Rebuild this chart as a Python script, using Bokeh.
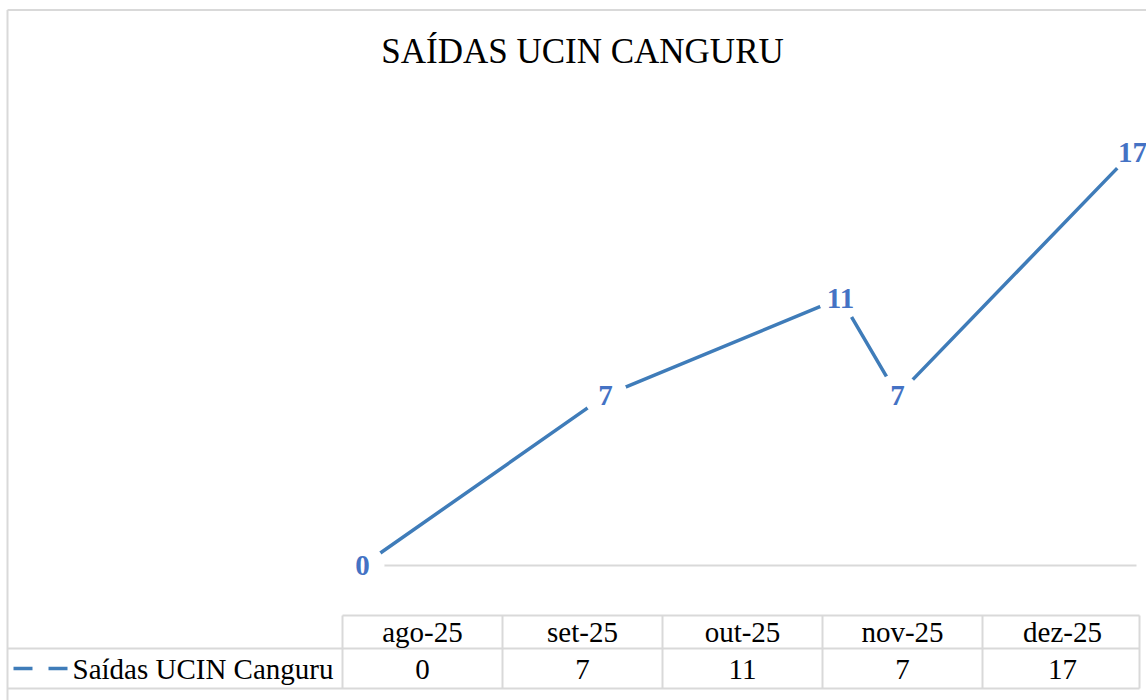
from bokeh.plotting import figure
from bokeh.models import Range1d
from bokeh.core.properties import value
from bokeh.embed import file_html
from bokeh.resources import INLINE

# ---- data ----
months = ["ago-25", "set-25", "out-25", "nov-25", "dez-25"]
saidas = [0, 7, 11, 7, 17]
# horizontal position of each plotted point, in table-column units
x_pos = [-0.375, 1.144, 2.6125, 2.969, 4.4375]
series_name = "Saídas UCIN Canguru"
title_text = "SAÍDAS UCIN CANGURU"

# ---- styles ----
FONT = value("Liberation Serif")
LINE = "#3F7CB9"
LABEL = "#4472C4"
GRID = "#D9D9D9"

# ---- layout helpers (image pixel -> data space) ----
W, H = 1146, 700
OX, OY = 0, 0
COL0, COLW = 422, 160
Y0, PXU = 565, 24.3


def px2x(X):
    return (X - COL0) / COLW


def px2y(Y):
    return (Y0 - Y) / PXU


p = figure(width=W, height=H, output_backend="svg", toolbar_location=None,
           x_range=Range1d(px2x(OX), px2x(OX + W)),
           y_range=Range1d(px2y(OY + H), px2y(OY)),
           x_axis_type=None, y_axis_type=None, min_border=0)
p.grid.visible = False
p.outline_line_color = None
p.background_fill_color = "white"
p.border_fill_color = "white"

# outer chart border (top and left)
p.segment(x0=[px2x(7), px2x(7)], y0=[px2y(9.5), px2y(9.5)],
          x1=[px2x(1146), px2x(7)], y1=[px2y(9.5), px2y(700)],
          line_color=GRID, line_width=2)

# zero gridline
p.segment(x0=[px2x(342)], y0=[0], x1=[px2x(1136)], y1=[0], line_color=GRID, line_width=2)

# series line
p.line(x_pos, saidas, line_color=LINE, line_width=3.5)
# white halo around points (breaks line around labels)
p.scatter(x_pos, saidas, size=44, fill_color="white", line_color=None)
# data labels
p.text(x=x_pos, y=saidas, text=[str(v) for v in saidas], text_font=FONT,
       text_font_style="bold", text_font_size="29px", text_color=LABEL,
       text_align="center", text_baseline="middle")

# title
p.text(x=[px2x(582)], y=[px2y(51)], text=[title_text], text_font=FONT,
       text_font_size="35px", text_color="black", text_align="center",
       text_baseline="middle")

# ---- data table ----
edges = [px2x(342 + 160 * i) for i in range(5)] + [px2x(1139)]
hx0 = [px2x(342), px2x(7), px2x(7)]
hx1 = [px2x(1139)] * 3
hy = [px2y(615), px2y(648), px2y(688)]
p.segment(x0=hx0, y0=hy, x1=hx1, y1=hy, line_color=GRID, line_width=2)
p.segment(x0=edges, y0=[px2y(615)] * len(edges), x1=edges, y1=[px2y(688)] * len(edges),
          line_color=GRID, line_width=2)

cols = list(range(len(months)))
p.text(x=cols, y=[px2y(631.5)] * len(cols), text=months, text_font=FONT,
       text_font_size="29px", text_color="black", text_align="center",
       text_baseline="middle")
p.text(x=cols, y=[px2y(669)] * len(cols), text=[str(v) for v in saidas], text_font=FONT,
       text_font_size="29px", text_color="black", text_align="center",
       text_baseline="middle")

# legend key + series name
p.segment(x0=[px2x(13)], y0=[px2y(668)], x1=[px2x(67)], y1=[px2y(668)],
          line_color=LINE, line_width=3.5, line_dash="19 16")
p.text(x=[px2x(72)], y=[px2y(668)], text=[series_name], text_font=FONT,
       text_font_size="29px", text_color="black", text_align="left",
       text_baseline="middle")

open("out.html", "w").write(file_html(p, INLINE))
